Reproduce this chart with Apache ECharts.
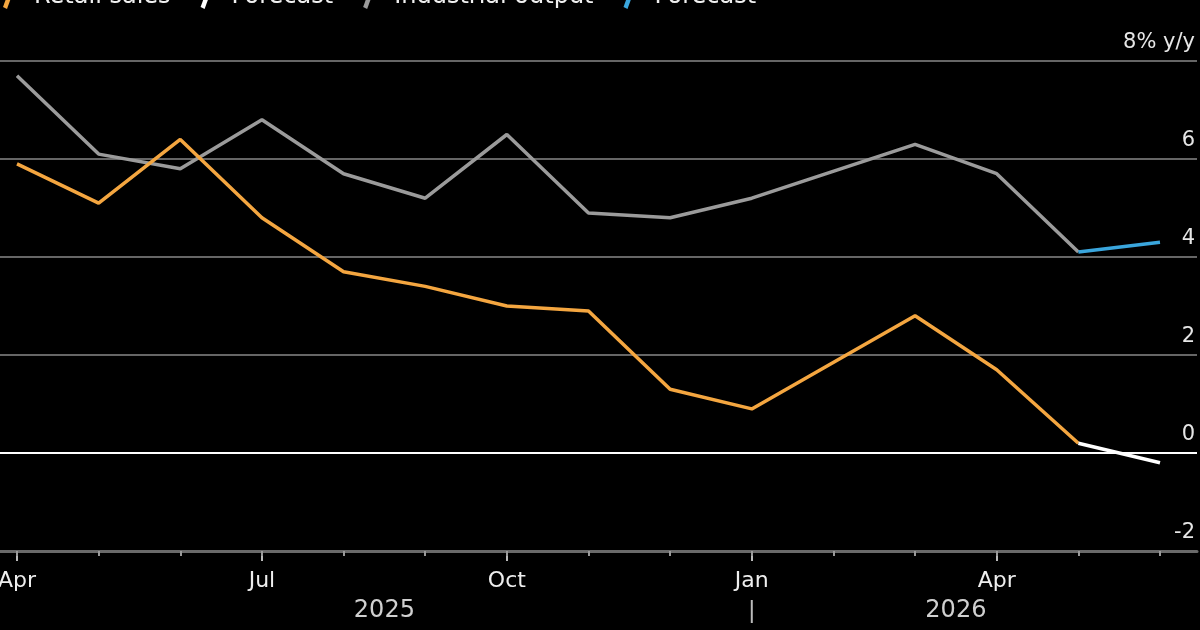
<!DOCTYPE html>
<html>
<head>
<meta charset="utf-8">
<script src="https://cdn.jsdelivr.net/npm/echarts@6/dist/echarts.min.js"></script>
<style>
  html, body { margin: 0; padding: 0; background: #000; }
  #chart { width: 1200px; height: 630px; }
</style>
</head>
<body>
<div id="chart"></div>
<script>
// 月份 (data points sit on the month ticks)
var categories = ['Apr 2025', 'May 2025', 'Jun 2025', 'Jul 2025', 'Aug 2025', 'Sep 2025', 'Oct 2025',
  'Nov 2025', 'Dec 2025', 'Jan 2026', 'Feb 2026', 'Mar 2026', 'Apr 2026', 'May 2026', 'Jun 2026'];
var majorTicks = [0, 3, 6, 9, 12];
var years = ['2025', '2026'];
var yearStart = [0, 9];

var retailSales = [5.9, 5.1, 6.4, 4.8, 3.7, 3.4, 3.0, 2.9, 1.3, 0.9, null, 2.8, 1.7, 0.2, null];
var retailForecast = [null, null, null, null, null, null, null, null, null, null, null, null, null, 0.2, -0.2];
var industrialOutput = [7.7, 6.1, 5.8, 6.8, 5.7, 5.2, 6.5, 4.9, 4.8, 5.2, null, 6.3, 5.7, 4.1, null];
var industrialForecast = [null, null, null, null, null, null, null, null, null, null, null, null, null, 4.1, 4.3];

var yTicks = [-2, 0, 2, 4, 6, 8];

var FONT = '"DejaVu Sans", sans-serif';
var slash = 'path://M0,22 L4,24 L12,2 L8,0 Z';

var chart = echarts.init(document.getElementById('chart'));

function lineSeries(name, data, color) {
  return {
    name: name,
    type: 'line',
    xAxisIndex: 1,
    yAxisIndex: 1,
    data: data,
    connectNulls: true,
    symbol: 'none',
    lineStyle: { color: color, width: 3.5 },
    itemStyle: { color: color },
    emphasis: { disabled: true },
    animation: false
  };
}

chart.setOption({
  backgroundColor: '#000',
  legend: {
    left: -2,
    top: -20,
    icon: slash,
    itemWidth: 12,
    itemHeight: 24,
    itemGap: 30,
    textStyle: { color: '#f0f0f0', fontSize: 24, fontFamily: FONT, padding: [0, 0, 0, 14] },
    formatter: function (name) {
      return name.indexOf('Forecast') === 0 ? 'Forecast' : name;
    },
    data: ['Retail sales', 'Forecast (retail)', 'Industrial output', 'Forecast (industrial)']
  },
  grid: [
    { left: 0, right: 3, top: 61, bottom: 79, containLabel: false, outerBoundsMode: 'none' },
    { left: 17, right: 40, top: 61, bottom: 79, containLabel: false, outerBoundsMode: 'none' }
  ],
  xAxis: [
    {
      gridIndex: 0,
      type: 'category',
      data: categories,
      boundaryGap: false,
      axisLine: { show: true, onZero: false, lineStyle: { color: '#6a6a6a', width: 3 } },
      axisTick: { show: false },
      axisLabel: { show: false }
    },
    {
      gridIndex: 1,
      type: 'category',
      position: 'bottom',
      data: categories,
      boundaryGap: false,
      axisLine: { show: false, onZero: false },
      axisTick: {
        show: true,
        length: 10,
        lineStyle: { color: '#bbb', width: 2 },
        interval: function (i) { return majorTicks.indexOf(i) >= 0; }
      },
      axisLabel: {
        color: '#eee',
        fontSize: 22,
        fontFamily: FONT,
        margin: 19,
        interval: function (i) { return majorTicks.indexOf(i) >= 0; },
        formatter: function (v) { return v.slice(0, 3); }
      }
    },
    {
      gridIndex: 1,
      type: 'category',
      position: 'bottom',
      data: categories,
      boundaryGap: false,
      axisLine: { show: false, onZero: false },
      axisTick: { show: true, length: 5, interval: 0, lineStyle: { color: '#999', width: 2 } },
      axisLabel: { show: false }
    }
  ],
  yAxis: [
    {
      gridIndex: 0,
      type: 'value',
      position: 'right',
      min: -2,
      max: 8,
      interval: 2,
      axisLine: { show: false },
      axisTick: { show: false },
      splitLine: {
        lineStyle: { color: ['#666', '#fff', '#666', '#666', '#666', '#666'], width: 2 }
      },
      axisLabel: {
        inside: true,
        verticalAlign: 'bottom',
        margin: 2,
        padding: [0, 0, 8, 0],
        color: '#e6e6e6',
        fontSize: 21,
        fontFamily: FONT,
        formatter: function (v) { return v === yTicks[yTicks.length - 1] ? v + '% y/y' : String(v); }
      }
    },
    {
      gridIndex: 1,
      type: 'value',
      min: -2,
      max: 8,
      show: false
    }
  ],
  series: [
    lineSeries('Industrial output', industrialOutput, '#9b9b9b'),
    lineSeries('Forecast (industrial)', industrialForecast, '#3aa6dd'),
    lineSeries('Retail sales', retailSales, '#f4a640'),
    lineSeries('Forecast (retail)', retailForecast, '#ffffff')
  ]
});

// year row under the month labels
var yearGraphics = [];
for (var k = 0; k < years.length; k++) {
  var a = yearStart[k];
  var b = k + 1 < yearStart.length ? yearStart[k + 1] : categories.length - 1;
  var xa = chart.convertToPixel({ xAxisIndex: 1 }, a);
  var xb = chart.convertToPixel({ xAxisIndex: 1 }, b);
  yearGraphics.push({
    type: 'text',
    x: (xa + xb) / 2,
    y: 611,
    style: { text: years[k], fill: '#d0d0d0', fontSize: 24, fontFamily: FONT, align: 'center', verticalAlign: 'middle' }
  });
  if (k > 0) {
    yearGraphics.push({
      type: 'line',
      shape: { x1: xa, y1: 600, x2: xa, y2: 623 },
      style: { stroke: '#bbb', lineWidth: 2 }
    });
  }
}
chart.setOption({ graphic: yearGraphics });
</script>
</body>
</html>
